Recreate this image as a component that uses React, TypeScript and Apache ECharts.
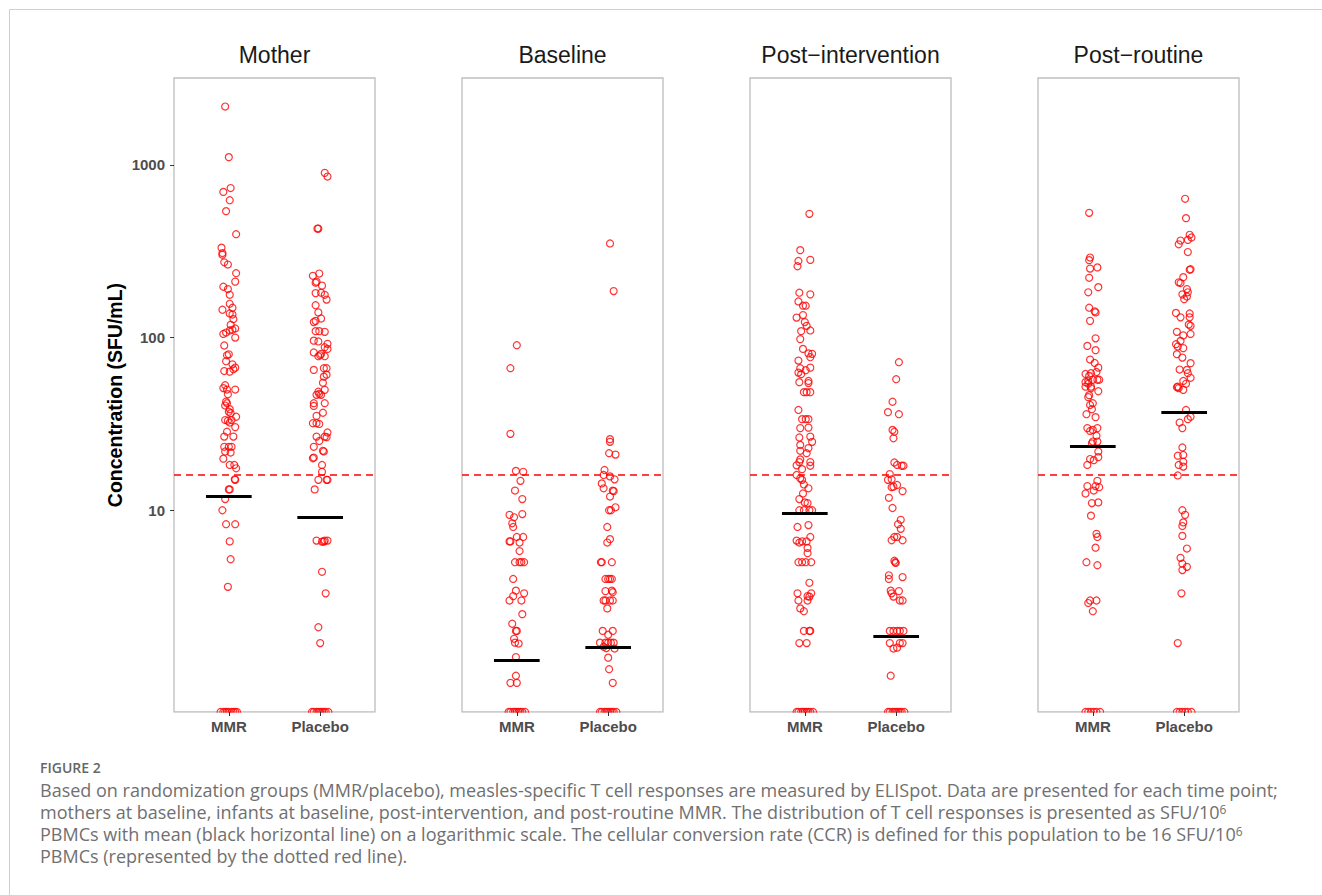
import React, { useEffect, useRef } from "react";
import * as echarts from "echarts";

// ---------- data ----------
const panelTitles = ["Mother", "Baseline", "Post−intervention", "Post−routine"];
const groupLabels = ["MMR", "Placebo"];
const yTickValues = [10, 100, 1000];
const ccrThreshold = 16;

// Each point: [horizontal jitter (category units), SFU value]; 0 = no response (drawn at panel floor)
const motherMMR: [number, number][] = [
  [-0.04, 2180], [0, 1110], [0.02, 735], [-0.06, 698], [0.01, 625], [-0.03, 540], [0.08, 397],
  [-0.08, 332], [-0.07, 309], [-0.07, 302], [-0.05, 273], [-0.01, 265], [0.08, 236], [0.07, 211],
  [-0.06, 197], [-0.01, 191], [0.01, 177], [0.01, 157], [0.04, 149], [-0.07, 145], [0.01, 138],
  [0.04, 136], [0.05, 128], [0.02, 118.5], [0.07, 113], [0.04, 111], [-0.06, 105], [-0.03, 107],
  [0.01, 110], [0.07, 100], [-0.05, 90], [0, 80], [-0.02, 79], [-0.03, 73], [0.04, 70], [0.07, 67],
  [-0.05, 64], [0.01, 63.5], [0.05, 65.6], [-0.04, 53], [-0.06, 51], [-0.02, 50], [0.07, 50],
  [-0.01, 47], [-0.03, 42.6], [-0.02, 41.7], [-0.04, 40.4], [0.01, 38.5], [0, 37.2], [0.02, 36.5],
  [0.08, 34.8], [-0.04, 33.3], [-0.01, 33], [0.03, 33.3], [0.01, 32.2], [0.07, 30.3], [-0.02, 28.5],
  [-0.05, 26.7], [0.05, 26.7], [-0.05, 23.3], [0, 23.3], [0.03, 23.3], [-0.04, 21.9], [0.02, 21.6],
  [-0.06, 19.9], [0.01, 18.3], [0.06, 18.3], [0.08, 17.5], [0.07, 15], [0.065, 15.1], [0.01, 13.2],
  [0, 13.2], [-0.04, 11.6], [-0.07, 10], [-0.03, 8.3], [0.07, 8.3], [0.01, 6.6], [0.02, 5.2],
  [-0.01, 3.6],
  [-0.09, 0], [-0.06, 0], [-0.04, 0], [-0.02, 0], [0, 0], [0.03, 0], [0.05, 0], [0.07, 0], [0.09, 0],
];
const motherPlacebo: [number, number][] = [
  [0.05, 900], [0.08, 857], [-0.02, 428], [-0.03, 428], [-0.01, 235], [-0.08, 228], [-0.04, 211],
  [-0.05, 208], [0.02, 200], [-0.05, 181], [0.01, 182], [0.05, 177], [0.07, 166], [-0.05, 154],
  [-0.02, 140], [0.01, 129], [-0.07, 123], [-0.05, 125], [-0.05, 109], [-0.01, 109], [0.05, 108],
  [-0.07, 96], [-0.02, 95], [0.08, 92], [0.05, 88], [-0.07, 82], [-0.02, 78], [0, 79], [0.01, 80.5],
  [0.08, 86], [0.05, 78], [-0.07, 65], [0.04, 66.5], [0.07, 66.5], [0.07, 61], [0.04, 59.4],
  [0.03, 54.8], [0.05, 49.8], [-0.02, 48.6], [-0.04, 46.6], [-0.01, 47.2], [0.01, 46.6], [-0.07, 41.7],
  [-0.07, 40.2], [0.05, 41.7], [0.03, 36.7], [-0.04, 35.2], [-0.08, 31.9], [-0.01, 31.6], [-0.04, 31.9],
  [0.08, 28.2], [-0.04, 26.7], [0.05, 26.7], [0.07, 26.5], [-0.01, 25.2], [-0.07, 23.3], [0.04, 21.9],
  [0.03, 22.1], [-0.08, 20], [-0.07, 20.2], [0.02, 18.3], [0.02, 16.7], [-0.02, 15], [0.08, 15],
  [0.07, 15], [-0.06, 13.2], [-0.04, 6.67], [0.02, 6.58], [0.05, 6.67], [0.08, 6.67], [0.04, 6.58],
  [0.02, 4.4], [0.06, 3.3], [-0.02, 2.1], [0, 1.7],
  [-0.09, 0], [-0.07, 0], [-0.04, 0], [-0.02, 0], [0, 0], [0.02, 0], [0.04, 0], [0.06, 0], [0.09, 0],
];
const baselineMMR: [number, number][] = [
  [0, 90.3], [-0.07, 66.5], [-0.07, 27.7], [-0.01, 16.9], [0.07, 16.7], [0.04, 14.8], [-0.02, 13],
  [0.06, 11.6], [-0.08, 9.4], [-0.03, 9.1], [0.06, 9.5], [-0.05, 8.4], [-0.04, 8.0], [-0.08, 6.6],
  [-0.07, 6.6], [0, 7.0], [0.03, 6.5], [0.07, 7.0], [0.03, 5.8], [-0.02, 5], [0.03, 5], [0.05, 5],
  [0.08, 5], [-0.04, 4.0], [-0.01, 3.42], [-0.04, 3.18], [0.08, 3.3], [-0.08, 3.0], [0.05, 3.0],
  [0.06, 2.5], [-0.05, 2.2], [-0.01, 2.0], [0, 2.0], [-0.03, 1.8], [-0.02, 1.71], [0.02, 1.69],
  [-0.01, 1.41], [-0.01, 1.1], [-0.07, 1.0], [0, 1.0],
  [-0.09, 0], [-0.07, 0], [-0.04, 0], [-0.02, 0], [0, 0], [0.02, 0], [0.04, 0], [0.06, 0], [0.09, 0],
];
const baselinePlacebo: [number, number][] = [
  [0.02, 351], [0.06, 186], [0.02, 25.8], [0.02, 24.9], [0.01, 21.4], [0.08, 21.0], [-0.04, 17.1],
  [-0.05, 16.0], [0.02, 15.7], [0.07, 15.1], [-0.07, 14.3], [-0.05, 13.4], [0.05, 13.0], [0.06, 12.9],
  [0.02, 12.0], [0.08, 10.4], [0.01, 10.0], [0.03, 10.0], [-0.01, 8.0], [0.02, 6.8], [-0.01, 6.5],
  [-0.08, 5], [-0.07, 5], [0.04, 5], [-0.03, 4], [0, 4], [0.02, 4], [0.04, 4], [-0.03, 3.4],
  [0.04, 3.42], [0.05, 3.35], [-0.05, 3], [-0.03, 3], [0.02, 3], [0.05, 3], [-0.01, 2.7], [-0.06, 2.0],
  [0, 1.9], [0.05, 2.0], [-0.09, 1.71], [-0.03, 1.71], [0, 1.71], [0.03, 1.71], [0.06, 1.71],
  [-0.05, 1.62], [-0.02, 1.59], [0.07, 1.58], [0, 1.4], [0.01, 1.2], [0.05, 1.0],
  [-0.09, 0], [-0.07, 0], [-0.04, 0], [-0.02, 0], [0, 0], [0.02, 0], [0.04, 0], [0.06, 0], [0.09, 0],
];
const postInterventionMMR: [number, number][] = [
  [0.05, 521], [-0.05, 321], [-0.07, 278], [0.06, 282], [-0.08, 259], [-0.06, 182], [0.06, 178],
  [-0.07, 162], [-0.02, 153], [0.01, 153], [-0.09, 130.6], [-0.02, 135], [0, 123], [0.02, 117],
  [0.06, 110], [-0.04, 109], [-0.05, 98], [-0.02, 86], [0.04, 81], [0.08, 80.5], [0.06, 77],
  [-0.07, 73.6], [0.06, 67], [-0.05, 66.5], [0.01, 64.7], [-0.07, 62.7], [-0.04, 61.4], [-0.06, 55.2],
  [0.04, 56.1], [0.04, 54.5], [-0.01, 48.3], [0.02, 48.3], [0.06, 48.3], [-0.07, 38.1], [-0.03, 33.7],
  [0.01, 33.7], [0.04, 33.7], [-0.05, 29.9], [0.04, 30.1], [-0.06, 26.4], [0.06, 26.7], [0.08, 24.9],
  [-0.05, 23.9], [0.04, 22.9], [-0.05, 22.1], [0.02, 21.4], [-0.05, 19.7], [-0.06, 19.0], [0.06, 19.0],
  [0.06, 18.1], [-0.09, 18.2], [-0.03, 17.3], [-0.09, 16.0], [-0.05, 15.3], [-0.03, 15.0], [-0.01, 14.1],
  [0.04, 13.4], [-0.02, 12.5], [-0.06, 11.6], [0, 11.1], [0.03, 11.0], [-0.06, 10], [-0.01, 10],
  [0.05, 10], [0.08, 10], [-0.08, 8.0], [0.04, 8.2], [-0.09, 6.67], [-0.06, 6.5], [-0.03, 6.6],
  [0.02, 6.6], [0.06, 7.0], [0.03, 6.05], [0.03, 5.64], [-0.07, 5], [-0.03, 5], [0.01, 5], [0.07, 5],
  [0.05, 3.8], [-0.08, 3.3], [0.03, 3.18], [0.07, 3.3], [0.05, 3.16], [-0.07, 3.0], [0.03, 3.0],
  [-0.05, 2.7], [-0.01, 2.6], [-0.01, 2.0], [0.05, 2.0], [0.06, 2.0], [-0.06, 1.7], [0.02, 1.7],
  [-0.09, 0], [-0.07, 0], [-0.04, 0], [-0.02, 0], [0, 0], [0.02, 0], [0.04, 0], [0.06, 0], [0.09, 0],
];
const postInterventionPlacebo: [number, number][] = [
  [0.03, 72], [0, 57.4], [-0.04, 42.5], [-0.09, 37], [0.03, 36], [-0.04, 29.2], [-0.02, 28.5],
  [-0.03, 26.1], [-0.02, 18.9], [0.06, 18.1], [0.08, 18.1], [0.01, 18.3], [-0.07, 16.2], [-0.09, 15],
  [-0.05, 15.1], [-0.03, 13.7], [0.01, 14], [-0.05, 13.6], [0.07, 12.9], [-0.08, 11.8], [-0.04, 10.3],
  [0.05, 8.8], [0.02, 8.3], [0.05, 7.8], [-0.02, 7.0], [-0.05, 6.7], [0.01, 7.0], [0.07, 6.7],
  [-0.02, 5.1], [-0.01, 5], [-0.005, 4.95], [-0.08, 4.2], [-0.08, 4.0], [0.07, 4.1], [-0.06, 3.42],
  [0.03, 3.4], [-0.05, 3.3], [-0.03, 3.16], [0.04, 3.0], [0.07, 3.0], [-0.07, 2], [-0.03, 2], [0.01, 2],
  [0.04, 2], [0.08, 2], [-0.07, 1.7], [-0.03, 1.58], [0.01, 1.6], [0.04, 1.7], [0.07, 1.7], [-0.06, 1.1],
  [-0.09, 0], [-0.07, 0], [-0.04, 0], [-0.02, 0], [0, 0], [0.02, 0], [0.04, 0], [0.06, 0], [0.09, 0],
];
const postRoutineMMR: [number, number][] = [
  [-0.04, 528], [-0.03, 291], [-0.04, 281], [-0.03, 251], [0.05, 255], [-0.04, 222], [-0.05, 183],
  [0.06, 196], [-0.04, 149], [0.02, 142], [0.03, 140], [-0.03, 125], [0.03, 99], [-0.06, 89.5],
  [0.03, 84.6], [-0.03, 74.6], [0.02, 71.3], [0.06, 67], [-0.08, 61.6], [-0.02, 62.2], [0.04, 63.2],
  [-0.04, 60], [-0.05, 56], [0, 57], [0.05, 57], [0.07, 57], [-0.08, 55.2], [-0.02, 50.9], [0.06, 48.9],
  [-0.04, 46.4], [-0.05, 54], [-0.08, 52], [-0.02, 52], [-0.05, 45.2], [0, 41.7], [-0.03, 40.7],
  [-0.01, 38.5], [-0.07, 36], [0.03, 34.6], [-0.06, 29.9], [0.05, 29.9], [-0.03, 28.8], [0, 29.2],
  [0.04, 27], [0, 25], [0.05, 25], [-0.01, 24.4], [0.06, 21.9], [-0.03, 19.8], [0.01, 19.5],
  [-0.06, 18.3], [0.06, 20.3], [0.05, 14.8], [-0.06, 13.8], [0.03, 13.8], [0.07, 13.6], [-0.08, 12.5],
  [0.01, 13], [-0.01, 11.0], [0.06, 11.1], [-0.02, 9.3], [0.04, 7.3], [0.05, 7.0], [0.03, 6.07],
  [-0.07, 5.0], [0.05, 4.8], [-0.03, 3.0], [-0.05, 2.9], [0.04, 3.0], [0, 2.6],
  [-0.08, 0], [-0.05, 0], [-0.02, 0], [0.01, 0], [0.04, 0], [0.08, 0],
];
const postRoutinePlacebo: [number, number][] = [
  [0.01, 637], [0.02, 492], [0.06, 394], [0.08, 380], [-0.04, 365], [0.04, 368], [-0.06, 347],
  [0.04, 313], [0.07, 249], [0.06, 247], [-0.01, 224], [-0.06, 209], [-0.04, 207], [0.03, 191],
  [0.04, 183], [0.03, 173], [-0.02, 178], [0, 167], [-0.09, 139], [-0.04, 131], [0.06, 138],
  [0.06, 131], [0.05, 119], [0.07, 117], [0.07, 105], [-0.01, 103], [-0.08, 108], [-0.09, 91.6],
  [-0.07, 88.8], [-0.04, 95.7], [-0.01, 86.9], [-0.08, 80.2], [-0.02, 76.6], [0.07, 71.1], [-0.05, 65.3],
  [0.03, 65], [0.04, 62.2], [0.07, 58.5], [-0.01, 56.1], [-0.08, 51.6], [-0.07, 52], [-0.01, 49.8],
  [0.02, 54], [-0.06, 51], [0.02, 38.1], [0.04, 33.7], [-0.05, 32.2], [-0.02, 29.9], [0.07, 34.8],
  [-0.02, 23.1], [-0.07, 20.7], [-0.01, 20.9], [-0.01, 19.1], [-0.06, 18.3], [-0.01, 17.9], [-0.07, 15.9],
  [-0.02, 10], [0.01, 9.4], [-0.01, 8.5], [-0.02, 8.1], [-0.02, 7.1], [0.03, 6.0], [-0.04, 5.3],
  [-0.02, 4.9], [0.03, 4.7], [-0.02, 4.5], [-0.03, 3.3], [-0.07, 1.7],
  [-0.08, 0], [-0.05, 0], [-0.02, 0], [0.01, 0], [0.04, 0], [0.08, 0],
];

// group means (black bars): [MMR, Placebo]
const motherMeans = [12.05, 9.11];
const baselineMeans = [1.35, 1.61];
const postInterventionMeans = [9.6, 1.86];
const postRoutineMeans = [23.5, 37.0];

const captionTitle = "FIGURE 2";
const captionLines = [
  "Based on randomization groups (MMR/placebo), measles-specific T cell responses are measured by ELISpot. Data are presented for each time point;",
  "mothers at baseline, infants at baseline, post-intervention, and post-routine MMR. The distribution of T cell responses is presented as SFU/10{sup|6}",
  "PBMCs with mean (black horizontal line) on a logarithmic scale. The cellular conversion rate (CCR) is defined for this population to be 16 SFU/10{sup|6}",
  "PBMCs (represented by the dotted red line).",
];

// ---------- layout ----------
const Y_MIN = 0.678;
const Y_MAX = 3190;
const GRID_LEFTS = [174, 462, 750, 1038];
const GRID_TOP = 78;
const GRID_W = 201;
const GRID_H = 634;
const FONT = "'Liberation Sans', Arial, Helvetica, sans-serif";
const CAP_FONT = "'Open Sans', 'Noto Sans', sans-serif";

const panelGroups: [number, number][][][] = [
  [motherMMR, motherPlacebo],
  [baselineMMR, baselinePlacebo],
  [postInterventionMMR, postInterventionPlacebo],
  [postRoutineMMR, postRoutinePlacebo],
];
const panelMeans = [motherMeans, baselineMeans, postInterventionMeans, postRoutineMeans];

function buildOption(): any {
  const grid = GRID_LEFTS.map((left) => ({
    left,
    top: GRID_TOP,
    width: GRID_W,
    height: GRID_H,
    show: true,
    borderColor: "#BEBEBE",
    borderWidth: 1.3,
    backgroundColor: "#FFFFFF",
  }));

  const xAxis = GRID_LEFTS.map((_, i) => ({
    type: "value",
    gridIndex: i,
    min: 0.4,
    max: 2.6,
    z: 10,
    axisLine: { show: false },
    splitLine: { show: false },
    axisTick: { show: true, customValues: [1, 2], length: 4, lineStyle: { color: "#333333", width: 1 } },
    axisLabel: {
      show: true,
      customValues: [1, 2],
      formatter: (v: number) => groupLabels[Math.round(v) - 1] ?? "",
      margin: 7,
      fontSize: 15,
      fontWeight: "bold",
      color: "#4D4D4D",
      fontFamily: FONT,
    },
  }));

  const yAxis = GRID_LEFTS.map((_, i) => ({
    type: "log",
    logBase: 10,
    gridIndex: i,
    min: Y_MIN,
    max: Y_MAX,
    axisLine: { show: false },
    splitLine: { show: false },
    minorTick: { show: false },
    axisTick: { show: i === 0, customValues: yTickValues, length: 4, lineStyle: { color: "#333333", width: 1 } },
    axisLabel: {
      show: i === 0,
      customValues: yTickValues,
      formatter: (v: number) => String(Math.round(v)),
      margin: 9,
      fontSize: 15,
      fontWeight: "bold",
      color: "#4D4D4D",
      fontFamily: FONT,
    },
    name: i === 0 ? "Concentration (SFU/mL)" : "",
    nameLocation: "middle",
    nameGap: 49,
    nameTextStyle: { fontSize: 19.5, fontWeight: "bold", color: "#000000", fontFamily: FONT },
  }));

  const series = panelGroups.map((groups, i) => {
    const data: number[][] = [];
    groups.forEach((pts, g) => {
      pts.forEach(([dx, v]) => data.push([g + 1 + dx, v > 0 ? v : Y_MIN]));
    });
    const means = panelMeans[i];
    return {
      type: "scatter",
      xAxisIndex: i,
      yAxisIndex: i,
      data,
      symbol: "circle",
      symbolSize: 7,
      silent: true,
      z: 2,
      itemStyle: { color: "rgba(255,255,255,0)", borderColor: "#FF0000", borderWidth: 1.2 },
      markLine: {
        silent: true,
        symbol: ["none", "none"],
        label: { show: false },
        lineStyle: { color: "#000000", width: 3, type: "solid" },
        data: [
          { yAxis: ccrThreshold, lineStyle: { color: "#FF0000", width: 1.6, type: [7, 5] } },
          ...means.map((m, g) => [
            { coord: [g + 0.75, m], lineStyle: { color: "#000000", width: 3, type: "solid" } },
            { coord: [g + 1.25, m] },
          ]),
        ],
      },
    };
  });

  const graphic: any[] = [
    { type: "line", shape: { x1: 9.5, y1: 9.5, x2: 1322, y2: 9.5 }, style: { stroke: "#D0D0D0", lineWidth: 1 }, silent: true },
    { type: "line", shape: { x1: 9.5, y1: 9.5, x2: 9.5, y2: 895 }, style: { stroke: "#D0D0D0", lineWidth: 1 }, silent: true },
  ];
  // panel floor: the zero-value circles sit on the border and are clipped below it
  GRID_LEFTS.forEach((left) => {
    graphic.push({
      type: "rect",
      silent: true,
      z: 5,
      shape: { x: left - 3, y: GRID_TOP + GRID_H + 0.7, width: GRID_W + 6, height: 6 },
      style: { fill: "#FFFFFF" },
    });
  });
  panelTitles.forEach((t, i) => {
    graphic.push({
      type: "text",
      silent: true,
      style: {
        text: t,
        x: GRID_LEFTS[i] + GRID_W / 2,
        y: 55,
        align: "center",
        verticalAlign: "middle",
        fontSize: 23,
        fontFamily: FONT,
        fill: "#1A1A1A",
      },
    });
  });
  graphic.push({
    type: "text",
    silent: true,
    style: {
      text: captionTitle,
      x: 40,
      y: 767,
      align: "left",
      verticalAlign: "middle",
      fontSize: 14,
      fontWeight: 600,
      fontFamily: CAP_FONT,
      fill: "#666666",
    },
  });
  const lineY = [790, 812, 834, 856];
  captionLines.forEach((t, i) => {
    graphic.push({
      type: "text",
      silent: true,
      style: {
        text: t,
        x: 40,
        y: lineY[i],
        align: "left",
        verticalAlign: "middle",
        fontSize: 18,
        lineHeight: 20,
        fontFamily: CAP_FONT,
        fill: "#707070",
        rich: {
          sup: {
            fontSize: 12,
            fontFamily: CAP_FONT,
            fill: "#707070",
            verticalAlign: "top",
            lineHeight: 14,
            padding: [1, 0, 0, 0],
          },
        },
      },
    });
  });

  return {
    animation: false,
    backgroundColor: "#FFFFFF",
    grid,
    xAxis,
    yAxis,
    series,
    graphic,
  };
}

export default function App() {
  const ref = useRef<HTMLDivElement>(null);
  useEffect(() => {
    document.body.style.margin = "0";
    if (!ref.current) return;
    const chart = echarts.init(ref.current, undefined, { renderer: "svg" });
    chart.setOption(buildOption());
    return () => chart.dispose();
  }, []);
  return <div ref={ref} style={{ width: 1322, height: 895 }} />;
}
